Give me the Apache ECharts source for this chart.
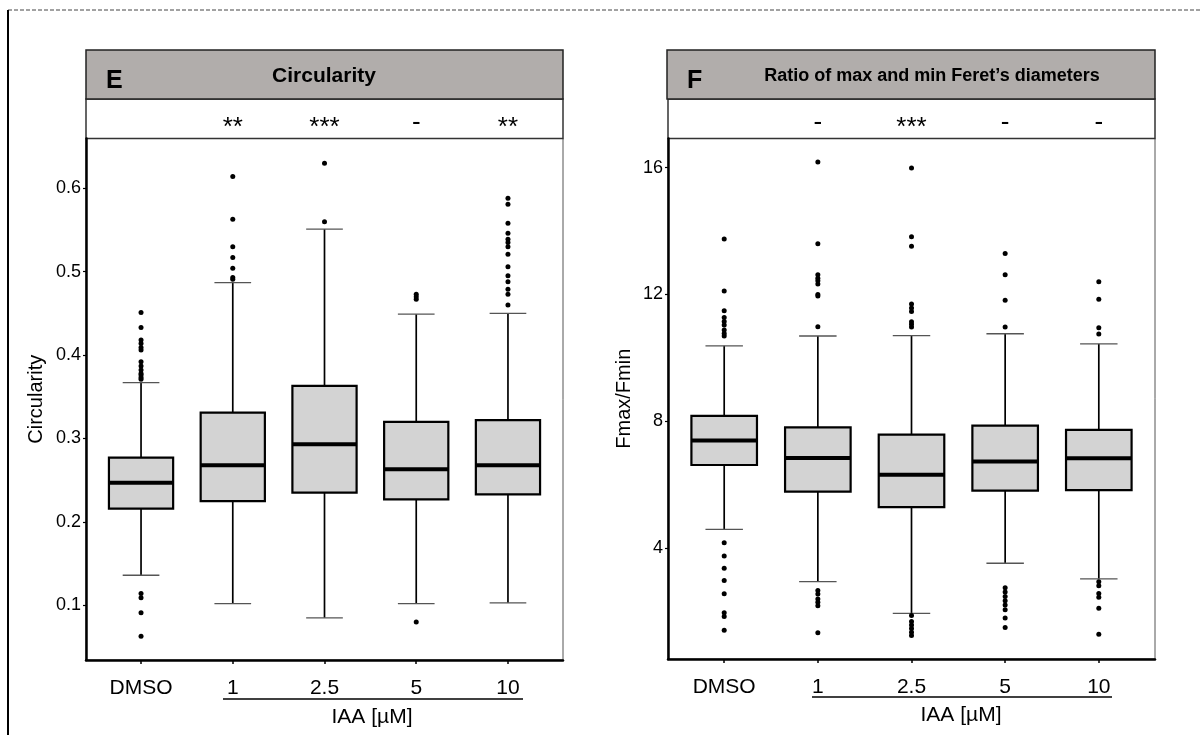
<!DOCTYPE html>
<html><head><meta charset="utf-8">
<script src="https://cdn.jsdelivr.net/npm/echarts@6/dist/echarts.min.js"></script>
<style>html,body{margin:0;padding:0;background:#fff}#c{width:1200px;height:735px}</style>
</head><body><div id="c"></div>
<script>
// ---------- data ----------
const categories = ['DMSO', '1', '2.5', '5', '10'];

// Panel E: Circularity
const circTicks = [0.1, 0.2, 0.3, 0.4, 0.5, 0.6];
const circLow  = [0.136, 0.102, 0.085, 0.102, 0.103];
const circQ1   = [0.216, 0.225, 0.235, 0.227, 0.233];
const circMed  = [0.247, 0.268, 0.293, 0.263, 0.268];
const circQ3   = [0.277, 0.331, 0.363, 0.320, 0.322];
const circHigh = [0.367, 0.487, 0.551, 0.449, 0.450];
const circOutliers = [
  [0.451, 0.433, 0.418, 0.414, 0.409, 0.406, 0.392, 0.387, 0.382, 0.378, 0.376, 0.373, 0.371, 0.114, 0.109, 0.091, 0.063],
  [0.614, 0.563, 0.530, 0.517, 0.504, 0.493, 0.491],
  [0.630, 0.560],
  [0.473, 0.470, 0.467, 0.080],
  [0.588, 0.581, 0.558, 0.546, 0.539, 0.535, 0.530, 0.521, 0.506, 0.495, 0.488, 0.479, 0.473, 0.460]
];
const circSignif = ['', '**', '***', '-', '**'];

// Panel F: Fmax/Fmin
const ferTicks = [4, 8, 12, 16];
const ferLow  = [4.59, 2.94, 1.94, 3.52, 3.03];
const ferQ1   = [6.62, 5.78, 5.29, 5.81, 5.83];
const ferMed  = [7.39, 6.84, 6.31, 6.73, 6.83];
const ferQ3   = [8.17, 7.81, 7.58, 7.86, 7.73];
const ferHigh = [10.38, 10.69, 10.70, 10.76, 10.44];
const ferOutliers = [
  [13.75, 12.11, 11.49, 11.27, 11.15, 11.04, 10.88, 10.77, 10.69, 4.17, 3.75, 3.36, 2.98, 2.56, 1.96, 1.84, 1.41],
  [16.18, 13.60, 12.62, 12.51, 12.43, 12.33, 12.00, 11.95, 10.98, 2.66, 2.55, 2.39, 2.29, 2.18, 1.33],
  [15.99, 13.82, 13.52, 11.70, 11.57, 11.46, 11.14, 11.06, 10.97, 1.87, 1.68, 1.57, 1.46, 1.34, 1.24],
  [13.29, 12.62, 11.82, 10.97, 2.75, 2.61, 2.47, 2.34, 2.20, 2.05, 1.79, 1.49],
  [12.40, 11.85, 10.95, 10.75, 2.94, 2.81, 2.57, 2.45, 2.10, 1.28]
];
const ferSignif = ['', '-', '***', '-', '-'];

// ---------- build ----------
const FONT = 'Liberation Sans, Arial, sans-serif';
const xPos = categories.map((c, i) => i + 1);

function boxData(low, q1, med, q3, high) {
  return xPos.map((x, i) => [x, low[i], q1[i], med[i], q3[i], high[i]]);
}
function outlierData(list) {
  const out = [];
  list.forEach((vals, i) => vals.forEach(v => out.push([xPos[i], v])));
  return out;
}
function boxRender(params, api) {
  const x = api.value(0);
  const pLow = api.coord([x, api.value(1)]);
  const pQ1 = api.coord([x, api.value(2)]);
  const pMed = api.coord([x, api.value(3)]);
  const pQ3 = api.coord([x, api.value(4)]);
  const pHigh = api.coord([x, api.value(5)]);
  const bw = api.size([0.7, 0])[0];
  const cw = api.size([0.4, 0])[0];
  const cx = pMed[0];
  return {
    type: 'group',
    children: [
      { type: 'line', shape: { x1: cx, y1: pQ3[1], x2: cx, y2: pHigh[1] }, style: { stroke: '#000', lineWidth: 1.7 } },
      { type: 'line', shape: { x1: cx, y1: pQ1[1], x2: cx, y2: pLow[1] }, style: { stroke: '#000', lineWidth: 1.7 } },
      { type: 'line', shape: { x1: cx - cw / 2, y1: pHigh[1], x2: cx + cw / 2, y2: pHigh[1] }, style: { stroke: '#555', lineWidth: 1.3 } },
      { type: 'line', shape: { x1: cx - cw / 2, y1: pLow[1], x2: cx + cw / 2, y2: pLow[1] }, style: { stroke: '#555', lineWidth: 1.3 } },
      { type: 'rect', shape: { x: cx - bw / 2, y: pQ3[1], width: bw, height: pQ1[1] - pQ3[1] }, style: { fill: '#d3d3d3', stroke: '#000', lineWidth: 2.2 } },
      { type: 'line', shape: { x1: cx - bw / 2, y1: pMed[1], x2: cx + bw / 2, y2: pMed[1] }, style: { stroke: '#000', lineWidth: 4 } }
    ]
  };
}
function signifRender(labels) {
  return function (params, api) {
    const p = api.coord([api.value(0), api.value(1)]);
    const t = labels[params.dataIndex];
    const dy = t.indexOf('*') >= 0 ? 9 : 4;
    return { type: 'text', x: p[0], y: p[1] + dy,
      style: { text: t, fill: '#000', font: '26px ' + FONT, align: 'center', verticalAlign: 'middle' } };
  };
}

function plotX(gi) {
  return {
    gridIndex: gi, type: 'value', min: 0.4, max: 5.6,
    splitLine: { show: false },
    axisLine: { show: true, onZero: false, lineStyle: { color: '#000', width: 2.5 } },
    axisTick: { show: true, customValues: xPos, length: 4, lineStyle: { color: '#000', width: 1.5 } },
    axisLabel: { customValues: xPos, formatter: v => categories[Math.round(v) - 1], fontSize: 21, color: '#000', margin: 18, fontFamily: FONT }
  };
}
function plotY(gi, min, max, ticks, name, gap) {
  return {
    gridIndex: gi, type: 'value', min: min, max: max,
    splitLine: { show: false },
    axisLine: { show: true, onZero: false, lineStyle: { color: '#000', width: 2.5 } },
    axisTick: { show: true, customValues: ticks, length: 3, lineStyle: { color: '#000', width: 1.2 } },
    axisLabel: { customValues: ticks, formatter: v => String(v), fontSize: 18, color: '#000', margin: 5, fontFamily: FONT },
    name: name, nameLocation: 'middle', nameRotate: 90, nameGap: gap,
    nameTextStyle: { fontSize: 20, color: '#000', fontFamily: FONT }
  };
}
function hiddenX(gi) { return { gridIndex: gi, type: 'value', min: 0.4, max: 5.6, show: false }; }
function hiddenY(gi) { return { gridIndex: gi, type: 'value', min: 0, max: 1, show: false }; }

const option = {
  animation: false,
  backgroundColor: '#fff',
  textStyle: { fontFamily: FONT },
  grid: [
    { left: 86, top: 138.5, width: 477, height: 521.5, show: true, borderColor: '#555', borderWidth: 1 },
    { left: 668, top: 138.5, width: 487, height: 520.5, show: true, borderColor: '#555', borderWidth: 1 },
    { left: 86, top: 99, width: 477, height: 39.5, show: true, borderColor: '#333', borderWidth: 1.5 },
    { left: 668, top: 99, width: 487, height: 39.5, show: true, borderColor: '#333', borderWidth: 1.5 }
  ],
  xAxis: [plotX(0), plotX(1), hiddenX(2), hiddenX(3)],
  yAxis: [
    plotY(0, 0.0344, 0.6597, circTicks, 'Circularity', 40),
    plotY(1, 0.5, 16.92, ferTicks, 'Fmax/Fmin', 34),
    hiddenY(2), hiddenY(3)
  ],
  series: [
    { type: 'custom', xAxisIndex: 0, yAxisIndex: 0, renderItem: boxRender, encode: { x: 0, y: [1, 2, 3, 4, 5] },
      data: boxData(circLow, circQ1, circMed, circQ3, circHigh), z: 2 },
    { type: 'scatter', xAxisIndex: 0, yAxisIndex: 0, symbolSize: 5, itemStyle: { color: '#000', opacity: 1 },
      data: outlierData(circOutliers), z: 3 },
    { type: 'custom', xAxisIndex: 1, yAxisIndex: 1, renderItem: boxRender, encode: { x: 0, y: [1, 2, 3, 4, 5] },
      data: boxData(ferLow, ferQ1, ferMed, ferQ3, ferHigh), z: 2 },
    { type: 'scatter', xAxisIndex: 1, yAxisIndex: 1, symbolSize: 5, itemStyle: { color: '#000', opacity: 1 },
      data: outlierData(ferOutliers), z: 3 },
    { type: 'custom', xAxisIndex: 2, yAxisIndex: 2, renderItem: signifRender(circSignif),
      data: xPos.map(x => [x, 0.5]) },
    { type: 'custom', xAxisIndex: 3, yAxisIndex: 3, renderItem: signifRender(ferSignif),
      data: xPos.map(x => [x, 0.5]) }
  ],
  graphic: [
    { type: 'line', shape: { x1: 8, y1: 10, x2: 1200, y2: 10 }, style: { stroke: '#444', lineWidth: 1, lineDash: [4, 2] } },
    { type: 'line', shape: { x1: 8, y1: 10, x2: 8, y2: 735 }, style: { stroke: '#000', lineWidth: 2 } },
    { type: 'rect', shape: { x: 86, y: 50, width: 477, height: 49 }, style: { fill: '#b1adab', stroke: '#222', lineWidth: 1.5 } },
    { type: 'text', x: 106, y: 81, style: { text: 'E', font: 'bold 25px ' + FONT, fill: '#000', verticalAlign: 'middle' } },
    { type: 'text', x: 324, y: 76, style: { text: 'Circularity', font: 'bold 21px ' + FONT, fill: '#000', align: 'center', verticalAlign: 'middle' } },
    { type: 'rect', shape: { x: 667, y: 50, width: 488, height: 49 }, style: { fill: '#b1adab', stroke: '#222', lineWidth: 1.5 } },
    { type: 'text', x: 687, y: 81, style: { text: 'F', font: 'bold 25px ' + FONT, fill: '#000', verticalAlign: 'middle' } },
    { type: 'text', x: 932, y: 76, style: { text: 'Ratio of max and min Feret\u2019s diameters', font: 'bold 18px ' + FONT, fill: '#000', align: 'center', verticalAlign: 'middle' } },
    { type: 'line', shape: { x1: 223, y1: 699, x2: 523, y2: 699 }, style: { stroke: '#000', lineWidth: 1.5 } },
    { type: 'text', x: 372, y: 717, style: { text: 'IAA [\u00b5M]', font: '21px ' + FONT, fill: '#000', align: 'center', verticalAlign: 'middle' } },
    { type: 'line', shape: { x1: 812, y1: 697, x2: 1112, y2: 697 }, style: { stroke: '#000', lineWidth: 1.5 } },
    { type: 'text', x: 961, y: 715, style: { text: 'IAA [\u00b5M]', font: '21px ' + FONT, fill: '#000', align: 'center', verticalAlign: 'middle' } }
  ]
};

const chart = echarts.init(document.getElementById('c'), null, { renderer: 'canvas' });
chart.setOption(option);
</script>
</body></html>
